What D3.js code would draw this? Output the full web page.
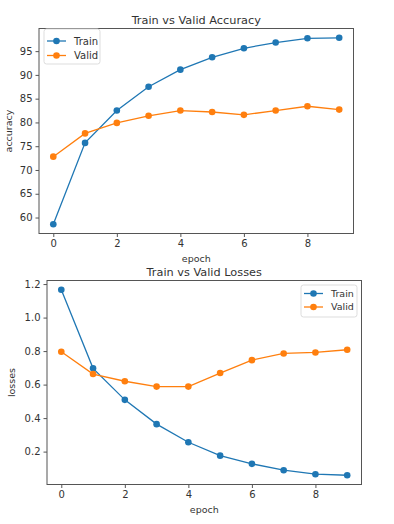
<!DOCTYPE html>
<html><head><meta charset="utf-8">
<script src="https://cdn.jsdelivr.net/npm/d3@7"></script>
<style>body{margin:0;background:#fff}svg{display:block}text{font-family:"DejaVu Sans",sans-serif;fill:#333}</style>
</head><body>
<script>
const epochs = [0,1,2,3,4,5,6,7,8,9];
const trainAcc = [58.6,75.7,82.5,87.5,91.1,93.7,95.6,96.8,97.7,97.8];
const validAcc = [72.8,77.7,79.9,81.4,82.5,82.2,81.6,82.5,83.4,82.7];
const trainLoss = [1.166,0.697,0.509,0.364,0.256,0.176,0.127,0.089,0.065,0.059];
const validLoss = [0.796,0.663,0.620,0.588,0.588,0.669,0.746,0.786,0.792,0.808];
const accTicks = [60,65,70,75,80,85,90,95];
const lossTicks = [0.2,0.4,0.6,0.8,1.0,1.2];
const xTicks = [0,2,4,6,8];
const seriesNames = ["Train","Valid"];
const colors = ["#1f77b4","#ff7f0e"];

const svg = d3.select("body").append("svg").attr("width",394).attr("height",524);

function panel(cfg){
  const g = svg.append("g");
  const x = d3.scaleLinear().domain([-0.45,9.45]).range([cfg.left,cfg.right]);
  const ext = d3.extent(cfg.series.flat());
  const pad = (ext[1]-ext[0])*0.05;
  const y = d3.scaleLinear().domain([ext[0]-pad, ext[1]+pad]).range([cfg.bottom,cfg.top]);
  cfg.series.forEach((s,i)=>{
    const line = d3.line().x((d,j)=>x(epochs[j])).y(d=>y(d));
    g.append("path").datum(s).attr("d",line).attr("fill","none").attr("stroke",colors[i]).attr("stroke-width",1.3);
    g.selectAll(null).data(s).enter().append("circle")
      .attr("cx",(d,j)=>x(epochs[j])).attr("cy",d=>y(d)).attr("r",3.3).attr("fill",colors[i]);
  });
  const xa = g.append("g").attr("transform",`translate(0,${cfg.bottom})`)
    .call(d3.axisBottom(x).tickValues(xTicks).tickSize(3.5).tickPadding(3).tickFormat(d3.format("d")));
  const ya = g.append("g").attr("transform",`translate(${cfg.left},0)`)
    .call(d3.axisLeft(y).tickValues(cfg.yTicks).tickSize(3.5).tickPadding(3).tickFormat(cfg.yFmt));
  [xa,ya].forEach(a=>{a.select(".domain").remove();a.selectAll("line").attr("stroke","#555");
    a.selectAll("text").attr("font-size",10).style("fill","#333").attr("font-family","DejaVu Sans");});
  g.append("rect").attr("x",cfg.left).attr("y",cfg.top).attr("width",cfg.right-cfg.left).attr("height",cfg.bottom-cfg.top)
    .attr("fill","none").attr("stroke","#555").attr("stroke-width",1);
  g.append("text").attr("x",(cfg.left+cfg.right)/2).attr("y",cfg.top-5).attr("text-anchor","middle").attr("font-size",cfg.tfs).text(cfg.title);
  g.append("text").attr("x",(cfg.left+cfg.right)/2).attr("y",cfg.bottom+28).attr("text-anchor","middle").attr("font-size",9.5).text("epoch");
  g.append("text").attr("transform",`translate(${cfg.ylabX},${(cfg.top+cfg.bottom)/2}) rotate(-90)`).attr("text-anchor","middle").attr("font-size",9.5).text(cfg.ylabel);
  const L = cfg.legend;
  g.append("rect").attr("x",L.x).attr("y",L.y).attr("width",L.w).attr("height",L.h).attr("rx",2.5)
    .attr("fill","#fff").attr("fill-opacity",0.8).attr("stroke","#ddd").attr("stroke-width",1);
  seriesNames.forEach((n,i)=>{
    const yy = L.y+L.row0+i*L.dy;
    g.append("line").attr("x1",L.x+3).attr("x2",L.x+22).attr("y1",yy).attr("y2",yy).attr("stroke",colors[i]).attr("stroke-width",1.3);
    g.append("circle").attr("cx",L.x+12.5).attr("cy",yy).attr("r",3.3).attr("fill",colors[i]);
    g.append("text").attr("x",L.x+30).attr("y",yy).attr("dy","0.35em").attr("font-size",L.fs).text(n);
  });
}

panel({left:39,right:353.5,top:28.5,bottom:233.5,series:[trainAcc,validAcc],yTicks:accTicks,yFmt:d3.format("d"),
  title:"Train vs Valid Accuracy",tfs:11.3,ylabel:"accuracy",ylabX:12,
  legend:{x:44,y:29,w:56,h:35,row0:12,dy:14.5,fs:10}});
panel({left:47,right:361.5,top:280.5,bottom:484.5,series:[trainLoss,validLoss],yTicks:lossTicks,yFmt:d3.format(".1f"),
  title:"Train vs Valid Losses",tfs:11.3,ylabel:"losses",ylabX:15,
  legend:{x:301,y:285,w:56,h:32,row0:8.5,dy:13.5,fs:9.5}});
</script>
</body></html>
